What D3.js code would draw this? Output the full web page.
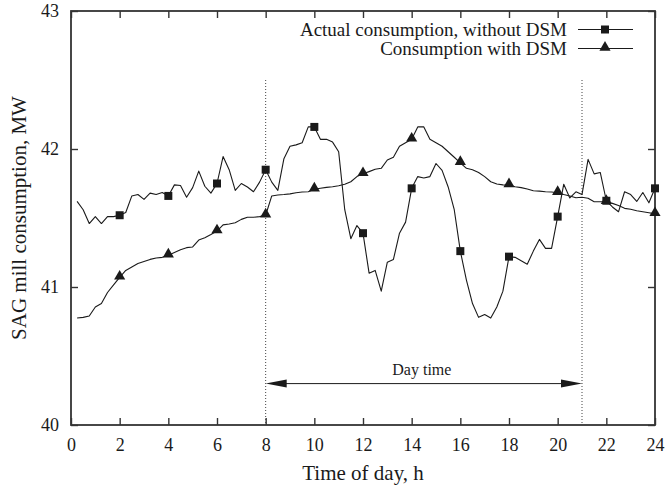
<!DOCTYPE html>
<html>
<head>
<meta charset="utf-8">
<script src="https://cdn.jsdelivr.net/npm/d3@7"></script>
<style>
body { margin: 0; background: #fff; }
text { font-family: "Liberation Serif", "DejaVu Serif", serif; fill: #1a1a1a; }
</style>
</head>
<body>
<div id="chart"></div>
<script>
// quarter-hour samples, h
var hours = [0.25,0.5,0.75,1,1.25,1.5,1.75,2,2.25,2.5,2.75,3,3.25,3.5,3.75,4,
	4.25,4.5,4.75,5,5.25,5.5,5.75,6,6.25,6.5,6.75,7,7.25,7.5,7.75,8,
	8.25,8.5,8.75,9,9.25,9.5,9.75,10,10.25,10.5,10.75,11,11.25,11.5,11.75,12,
	12.25,12.5,12.75,13,13.25,13.5,13.75,14,14.25,14.5,14.75,15,15.25,15.5,15.75,16,
	16.25,16.5,16.75,17,17.25,17.5,17.75,18,18.25,18.5,18.75,19,19.25,19.5,19.75,20,
	20.25,20.5,20.75,21,21.25,21.5,21.75,22,22.25,22.5,22.75,23,23.25,23.5,23.75,24];

// Actual consumption, without DSM (MW)
var actual = [41.62,41.56,41.46,41.51,41.46,41.51,41.51,41.52,41.54,41.66,41.67,41.635,41.68,41.67,41.685,41.66,
	41.74,41.735,41.65,41.72,41.84,41.73,41.68,41.75,41.945,41.85,41.70,41.75,41.725,41.69,41.76,41.85,
	41.76,41.70,41.93,42.02,42.03,42.045,42.16,42.16,42.07,42.07,42.05,41.98,41.56,41.35,41.445,41.39,
	41.10,41.12,40.97,41.18,41.20,41.39,41.47,41.715,41.80,41.79,41.80,41.895,41.845,41.725,41.56,41.26,
	41.05,40.88,40.78,40.80,40.775,40.855,40.97,41.22,41.215,41.19,41.165,41.26,41.345,41.28,41.28,41.51,
	41.745,41.645,41.69,41.67,41.925,41.82,41.83,41.625,41.58,41.545,41.69,41.67,41.62,41.685,41.61,41.715];

// Consumption with DSM (MW)
var withDsm = [40.775,40.78,40.79,40.855,40.88,40.96,41.015,41.07,41.12,41.145,41.17,41.185,41.20,41.21,41.215,41.23,
	41.25,41.27,41.285,41.29,41.34,41.357,41.38,41.405,41.45,41.457,41.466,41.49,41.505,41.505,41.51,41.52,
	41.66,41.667,41.67,41.675,41.683,41.688,41.69,41.708,41.715,41.722,41.727,41.734,41.744,41.763,41.80,41.82,
	41.836,41.853,41.86,41.92,41.94,42.02,42.046,42.07,42.16,42.16,42.07,42.046,42.02,41.98,41.94,41.90,
	41.86,41.85,41.83,41.80,41.763,41.746,41.74,41.739,41.727,41.72,41.71,41.697,41.695,41.69,41.688,41.683,
	41.67,41.66,41.647,41.65,41.643,41.618,41.618,41.618,41.606,41.59,41.57,41.563,41.553,41.545,41.538,41.53];

var xTicks = [0,2,4,6,8,10,12,14,16,18,20,22,24];
var yTicks = [40,41,42,43];
var dayTime = [8, 21];
var legendLabels = ["Actual consumption, without DSM", "Consumption with DSM"];

var W = 666, H = 487;
var ink = "#1a1a1a";

var x = d3.scaleLinear().domain([0, 24]).range([71, 655]);
var y = d3.scaleLinear().domain([40, 43]).range([425, 11]);

var svg = d3.select("#chart").append("svg")
	.attr("width", W)
	.attr("height", H)
	.style("background", "#fff");

// axes, ticks pointing inwards
var axBottom = svg.append("g")
	.attr("transform", "translate(0," + y(40) + ")")
	.call(d3.axisBottom(x).tickValues(xTicks).tickSize(-7).tickSizeOuter(0).tickPadding(13));
var axTop = svg.append("g")
	.attr("transform", "translate(0," + y(43) + ")")
	.call(d3.axisTop(x).tickValues(xTicks).tickSize(-7).tickSizeOuter(0).tickFormat(""));
var axLeft = svg.append("g")
	.attr("transform", "translate(" + x(0) + ",0)")
	.call(d3.axisLeft(y).tickValues(yTicks).tickSize(-7).tickSizeOuter(0).tickPadding(12).tickFormat(d3.format("d")));
var axRight = svg.append("g")
	.attr("transform", "translate(" + x(24) + ",0)")
	.call(d3.axisRight(y).tickValues(yTicks).tickSize(-7).tickSizeOuter(0).tickFormat(""));

[axBottom, axTop, axLeft, axRight].forEach(function(g) {
	g.select(".domain").remove();
	g.selectAll(".tick line").attr("stroke", "#333").attr("stroke-width", 1.4);
	g.selectAll(".tick text")
		.style("font-family", "'Liberation Serif', serif")
		.style("font-size", "18px")
		.attr("fill", ink);
});

svg.append("rect")
	.attr("x", x(0))
	.attr("y", y(43))
	.attr("width", x(24) - x(0))
	.attr("height", y(40) - y(43))
	.attr("fill", "none")
	.attr("stroke", "#333")
	.attr("stroke-width", 1.8);

// day time markers
dayTime.forEach(function(h) {
	svg.append("line")
		.attr("x1", x(h)).attr("x2", x(h))
		.attr("y1", y(42.5)).attr("y2", y(40))
		.attr("stroke", "#444")
		.attr("stroke-width", 1)
		.attr("stroke-dasharray", "1,2");
});

var ay = y(40.3);
svg.append("line")
	.attr("x1", x(dayTime[0]) + 18).attr("x2", x(dayTime[1]) - 18)
	.attr("y1", ay).attr("y2", ay)
	.attr("stroke", ink)
	.attr("stroke-width", 1);
svg.append("path")
	.attr("d", "M" + x(dayTime[0]) + "," + ay + "l21,-4l0,8z")
	.attr("fill", ink);
svg.append("path")
	.attr("d", "M" + x(dayTime[1]) + "," + ay + "l-21,-4l0,8z")
	.attr("fill", ink);
svg.append("text")
	.attr("x", (x(dayTime[0]) + x(dayTime[1])) / 2 - 2)
	.attr("y", ay - 9)
	.attr("text-anchor", "middle")
	.style("font-size", "16px")
	.text("Day time");

// series
var line = d3.line()
	.x(function(d) { return x(d[0]); })
	.y(function(d) { return y(d[1]); });

var actualPts = hours.map(function(h, i) { return [h, actual[i]]; });
var dsmPts = hours.map(function(h, i) { return [h, withDsm[i]]; });

[actualPts, dsmPts].forEach(function(pts) {
	svg.append("path")
		.datum(pts)
		.attr("d", line)
		.attr("fill", "none")
		.attr("stroke", ink)
		.attr("stroke-width", 1.1)
		.attr("stroke-linejoin", "round");
});

var square = d3.symbol().type(d3.symbolSquare).size(64);
var triangle = d3.symbol().type(d3.symbolTriangle).size(54);

function isMarked(d) { return d[0] % 2 === 0; }

svg.append("g").selectAll("path")
	.data(actualPts.filter(isMarked))
	.enter().append("path")
	.attr("d", square)
	.attr("transform", function(d) { return "translate(" + x(d[0]) + "," + y(d[1]) + ")"; })
	.attr("fill", ink);

svg.append("g").selectAll("path")
	.data(dsmPts.filter(isMarked))
	.enter().append("path")
	.attr("d", triangle)
	.attr("transform", function(d) { return "translate(" + x(d[0]) + "," + (y(d[1]) - 1) + ")"; })
	.attr("fill", ink);

// legend
var legend = svg.append("g");
[0, 1].forEach(function(i) {
	var ly = 29.5 + i * 19;
	legend.append("line")
		.attr("x1", 578).attr("x2", 633)
		.attr("y1", ly).attr("y2", ly)
		.attr("stroke", ink)
		.attr("stroke-width", 1.1);
	legend.append("path")
		.attr("d", i === 0 ? square : triangle)
		.attr("transform", "translate(605," + (ly - (i === 0 ? 0 : 1)) + ")")
		.attr("fill", ink);
	legend.append("text")
		.attr("x", 567)
		.attr("y", ly + 6)
		.attr("text-anchor", "end")
		.style("font-size", "19px")
		.text(legendLabels[i]);
});

// axis titles
svg.append("text")
	.attr("x", (x(0) + x(24)) / 2)
	.attr("y", 480)
	.attr("text-anchor", "middle")
	.style("font-size", "21px")
	.text("Time of day, h");

svg.append("text")
	.attr("transform", "translate(26," + (y(40) + y(43)) / 2 + ") rotate(-90)")
	.attr("text-anchor", "middle")
	.style("font-size", "21px")
	.text("SAG mill consumption, MW");
</script>
</body>
</html>
